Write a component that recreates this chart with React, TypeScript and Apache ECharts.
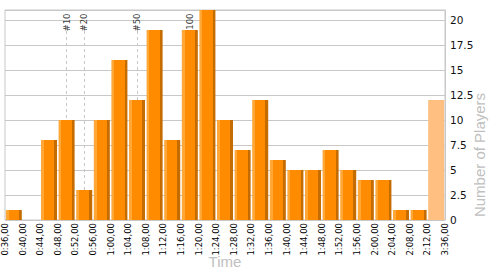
import React, { useEffect, useRef } from 'react';
import * as echarts from 'echarts';

// Histogram bins (start of each bin) – last bin is the overflow bin 2:12 → 3:36
const binLabels = [
  '0:36', '0:40', '0:44', '0:48', '0:52', '0:56', '1:00', '1:04', '1:08', '1:12',
  '1:16', '1:20', '1:24', '1:28', '1:32', '1:36', '1:40', '1:44', '1:48', '1:52',
  '1:56', '2:00', '2:04', '2:08', '2:12',
];
const counts = [1, 0, 8, 10, 3, 10, 16, 12, 19, 8, 19, 21, 10, 7, 12, 6, 5, 5, 7, 5, 4, 4, 1, 1];
const overflowCount = 12;

// Tick labels at bin boundaries
const tickLabels = [
  '0:36,00', '0:40,00', '0:44,00', '0:48,00', '0:52,00', '0:56,00', '1:00,00', '1:04,00',
  '1:08,00', '1:12,00', '1:16,00', '1:20,00', '1:24,00', '1:28,00', '1:32,00', '1:36,00',
  '1:40,00', '1:44,00', '1:48,00', '1:52,00', '1:56,00', '2:00,00', '2:04,00', '2:08,00',
  '2:12,00', '3:36,00',
];

// Rank markers
const markerBins = ['0:48', '0:52', '1:04', '1:16'];
const markerLabels = ['#10', '#20', '#50', '#100'];

const Y_MAX = 21;
const Y_INTERVAL = 2.5;
const MARKER_LINE_TOP = 18.9;

const GRID_COLOR = '#c8c8c8';
const NAME_COLOR = '#c0c0c0';

export default function App() {
  const ref = useRef<HTMLDivElement>(null);

  useEffect(() => {
    if (!ref.current) return;
    const chart = echarts.init(ref.current, undefined, { renderer: 'svg' });

    const orange = {
      type: 'linear', x: 0, y: 0, x2: 1, y2: 0,
      colorStops: [
        { offset: 0, color: '#ffa838' },
        { offset: 0.17, color: '#ffa838' },
        { offset: 0.17, color: '#ff8c00' },
        { offset: 0.83, color: '#ff8c00' },
        { offset: 0.83, color: '#c46c00' },
        { offset: 1, color: '#c46c00' },
      ],
    };

    const barData: any[] = counts.map((v) => ({ value: v, itemStyle: { color: orange } }));
    barData.push({
      value: overflowCount,
      itemStyle: { color: '#ffbf80', borderColor: '#ffbf80', borderWidth: 1.6 },
    });

    chart.setOption({
      animation: false,
      grid: {
        left: 5, right: 55, top: 10, bottom: 55,
        containLabel: false,
        outerBoundsMode: 'none',
        show: true, borderColor: GRID_COLOR, borderWidth: 1,
      },
      xAxis: [
        {
          type: 'category',
          data: binLabels,
          boundaryGap: true,
          axisLine: { show: false },
          axisTick: { show: false },
          axisLabel: { show: false },
          splitLine: { show: false },
        },
        {
          type: 'category',
          position: 'bottom',
          data: tickLabels,
          boundaryGap: false,
          axisLine: { show: false },
          axisTick: { show: false },
          splitLine: { show: false },
          axisLabel: {
            interval: 0,
            rotate: 90,
            margin: 3,
            fontSize: 8.5,
            color: '#000',
            fontFamily: 'DejaVu Sans',
          },
          name: 'Time',
          nameLocation: 'middle',
          nameGap: 34,
          nameMoveOverlap: false,
          nameTextStyle: { color: NAME_COLOR, fontSize: 15, fontFamily: 'Liberation Sans' },
        },
      ],
      yAxis: {
        type: 'value',
        position: 'right',
        min: 0,
        max: Y_MAX,
        interval: Y_INTERVAL,
        axisLine: { show: true, lineStyle: { color: GRID_COLOR } },
        axisTick: { show: false },
        splitLine: { show: true, lineStyle: { color: GRID_COLOR, width: 1 } },
        axisLabel: {
          margin: 5,
          fontSize: 10.5,
          color: '#111',
          fontFamily: 'DejaVu Sans',
          formatter: (v: number) => (v === Y_MAX ? '' : String(v)),
        },
        name: 'Number of Players',
        nameLocation: 'middle',
        nameGap: 27,
        nameMoveOverlap: false,
        nameTextStyle: {
          color: NAME_COLOR,
          fontSize: 15,
          fontFamily: 'Liberation Sans',
          padding: [0, 80, 0, 0],
        },
      },
      series: [
        {
          type: 'scatter',
          xAxisIndex: 0,
          z: 1,
          symbolSize: 0,
          silent: true,
          data: markerBins.map((b, i) => ({ value: [b, Y_MAX], name: markerLabels[i] })),
          label: {
            show: true,
            position: 'inside',
            offset: [-3.5, 0],
            rotate: 90,
            align: 'right',
            verticalAlign: 'middle',
            formatter: (p: any) => p.name,
            color: '#000',
            fontSize: 8.5,
            fontFamily: 'DejaVu Sans',
          },
          markLine: {
            z: 1,
            silent: true,
            symbol: 'none',
            label: { show: false },
            lineStyle: { color: GRID_COLOR, type: [3, 3], width: 1 },
            data: markerBins.map((b) => [
              { coord: [b, 0] },
              { coord: [b, MARKER_LINE_TOP] },
            ]),
          },
        },
        {
          type: 'bar',
          xAxisIndex: 0,
          z: 3,
          barCategoryGap: '9%',
          data: barData,
        },
      ],
    });

    return () => chart.dispose();
  }, []);

  return (
    <div
      ref={ref}
      style={{ position: 'fixed', left: 0, top: 0, width: 500, height: 275, background: '#fff' }}
    />
  );
}
